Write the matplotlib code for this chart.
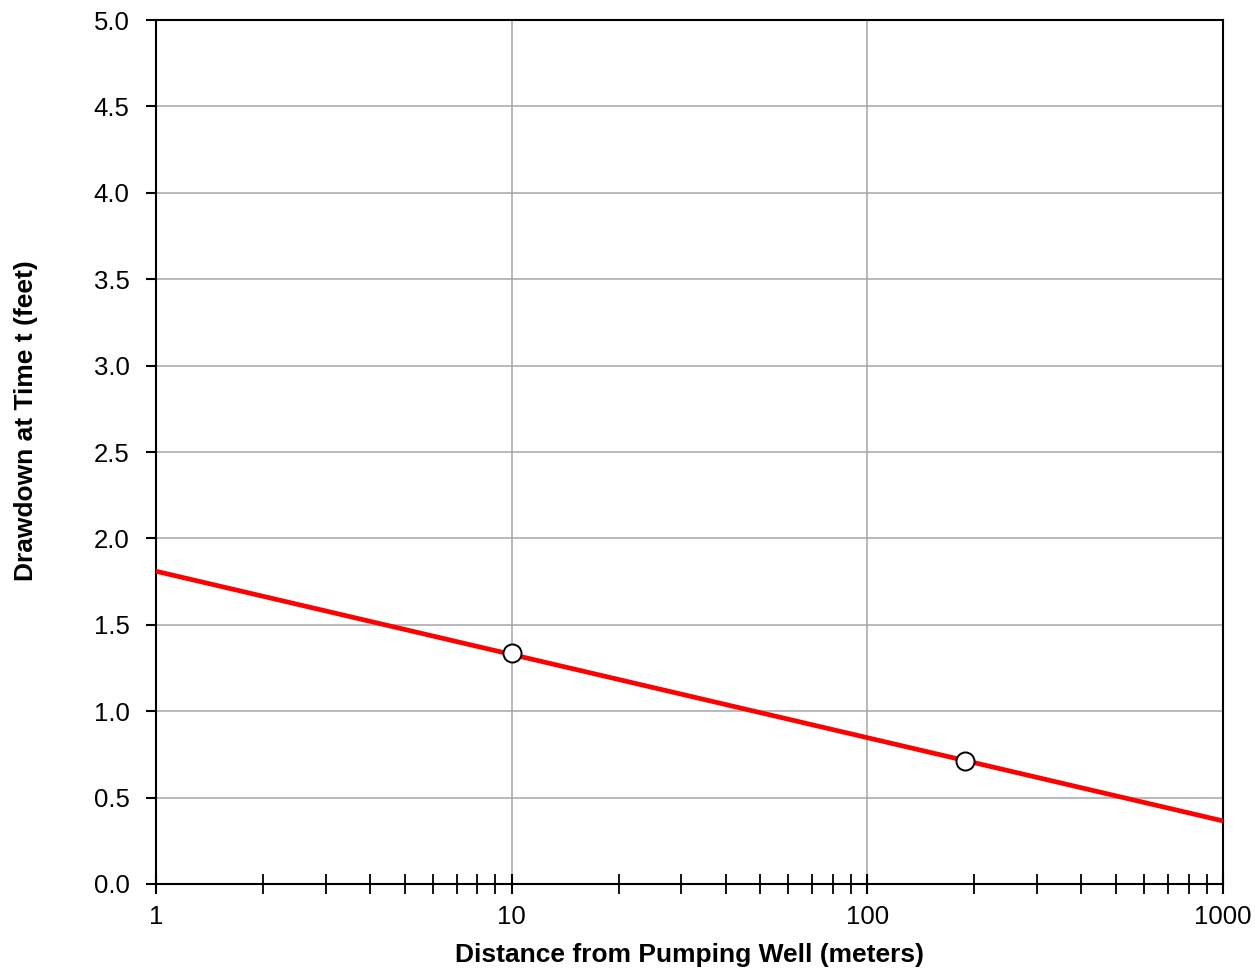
import matplotlib
matplotlib.use("Agg")
import matplotlib.pyplot as plt
from matplotlib.ticker import LogLocator, FixedLocator, NullFormatter

plt.rcParams['font.family'] = ['Liberation Sans', 'DejaVu Sans']

# Fitted drawdown line (endpoints) and observation wells
line_x = [1, 1000]
line_y = [1.81, 0.365]
obs_x = [10, 188]
obs_y = [1.335, 0.712]

x_ticks = [1, 10, 100, 1000]
x_labels = ["1", "10", "100", "1000"]
y_ticks = [0.0, 0.5, 1.0, 1.5, 2.0, 2.5, 3.0, 3.5, 4.0, 4.5, 5.0]

fig = plt.figure(figsize=(12.55, 9.68), dpi=100)
ax = fig.add_axes([0.1243, 0.0868, 0.8502, 0.8925])

ax.plot(line_x, line_y, color="#ff0000", linewidth=3.4, zorder=3)
ax.plot(obs_x, obs_y, 'o', markersize=13, markerfacecolor="white",
        markeredgecolor="black", markeredgewidth=1.4, zorder=4, clip_on=False)

ax.set_xscale("log")
ax.set_xlim(1, 1000)
ax.set_ylim(0, 5)

ax.xaxis.set_major_locator(FixedLocator(x_ticks))
ax.set_xticklabels(x_labels)
ax.xaxis.set_minor_locator(LogLocator(base=10, subs=range(2, 10)))
ax.xaxis.set_minor_formatter(NullFormatter())
ax.set_yticks(y_ticks)
ax.set_yticklabels([f"{v:.1f}" for v in y_ticks])

ax.grid(True, which="major", color="#a6a6a6", linewidth=1.1)
ax.set_axisbelow(True)

for s in ax.spines.values():
    s.set_color("black")
    s.set_linewidth(1.5)

ax.tick_params(axis="x", which="major", direction="inout", length=14, width=1.5,
               labelsize=18.5, pad=8)
ax.tick_params(axis="x", which="minor", direction="inout", length=14, width=1.3)
ax.tick_params(axis="y", which="major", direction="out", length=7, width=1.5,
               labelsize=18.5, pad=12)

ax.set_xlabel("Distance from Pumping Well (meters)", fontsize=19, fontweight="bold", labelpad=10)
ax.set_ylabel("Drawdown at Time t (feet)", fontsize=19, fontweight="bold")
ax.yaxis.set_label_coords(-0.1106, 0.536)

fig.savefig("out.png", dpi=100)
